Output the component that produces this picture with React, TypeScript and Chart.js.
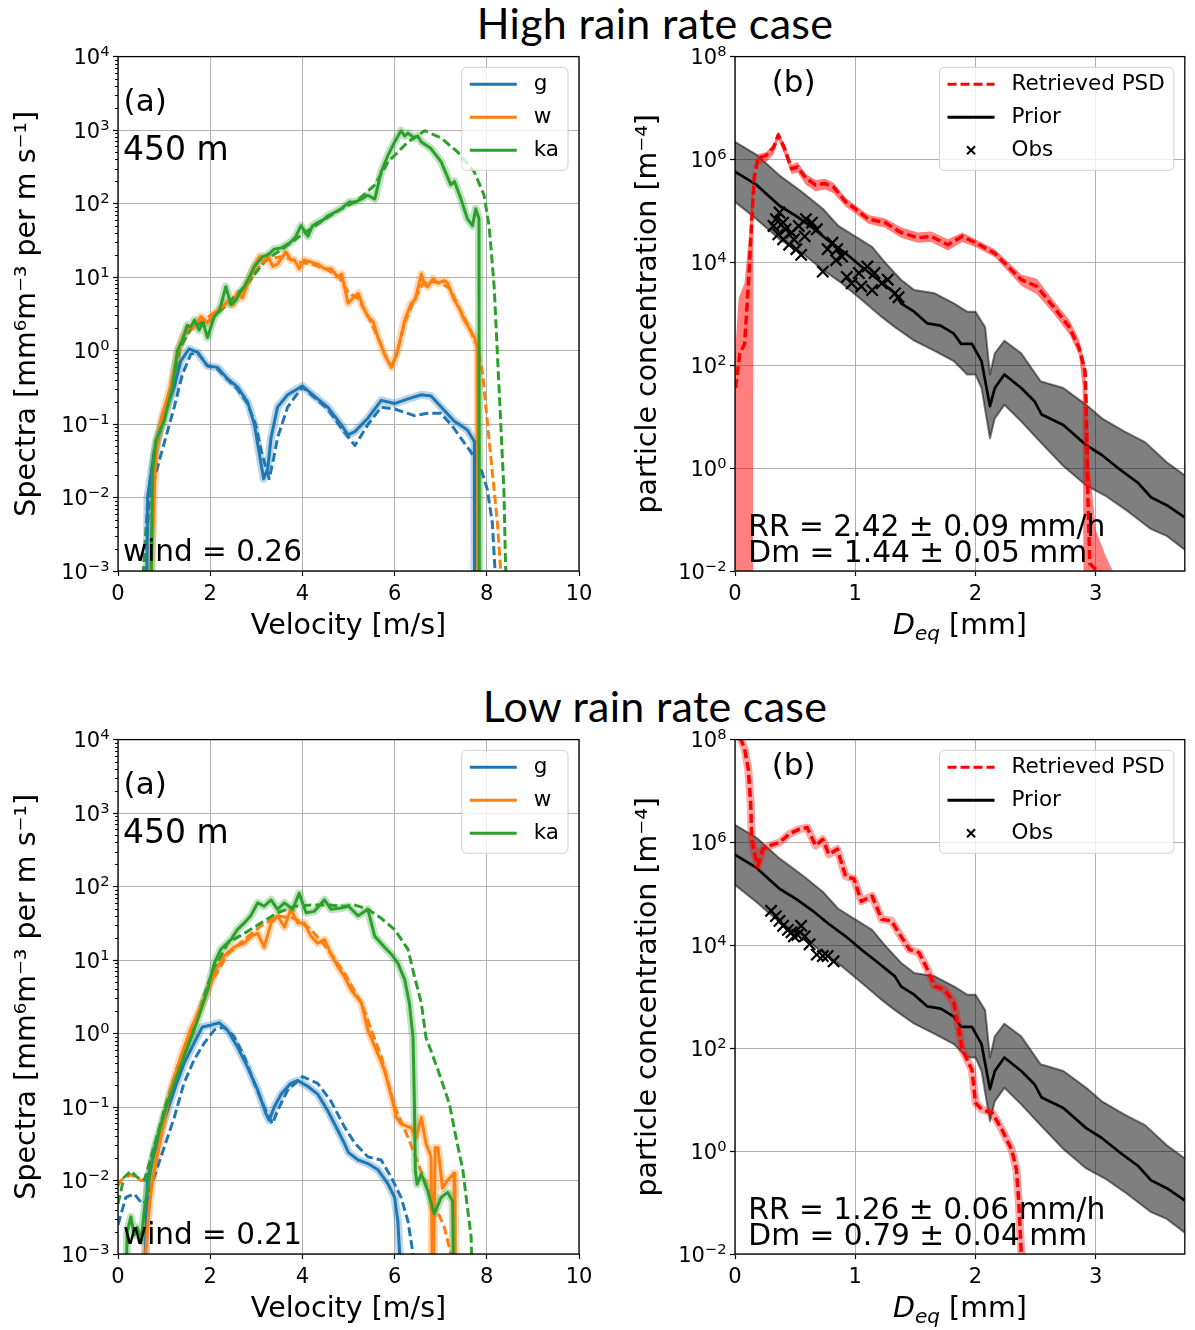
import React, { useEffect, useRef } from 'react';
import { Chart, registerables } from 'chart.js';

Chart.register(...registerables);

type P = [number, number];

// ---------------- axis ticks / labels ----------------
const velocityTicks = [0, 2, 4, 6, 8, 10];
const spectraTicks = [1e-3, 1e-2, 1e-1, 1, 1e1, 1e2, 1e3, 1e4];
const diameterTicks = [0, 1, 2, 3];
const psdTicks = [1e-2, 1, 1e2, 1e4, 1e6, 1e8];
const radarLabels = ['g', 'w', 'ka'];
const psdLabels = ['Retrieved PSD', 'Prior', 'Obs'];

// ---------------- High rain rate: Doppler spectra [velocity m/s, spectra] ----------------
const highG: P[] = [[0.60,1e-5],[0.64,1.0e-2],[0.78,3.8e-2],[1.0,0.135],[1.22,0.32],[1.36,0.72],[1.54,1.05],[1.72,0.95],[1.94,0.62],[2.16,0.59],[2.38,0.41],[2.59,0.32],[2.81,0.20],[2.96,0.098],[3.07,0.038],[3.16,0.018],[3.25,0.025],[3.32,0.065],[3.46,0.17],[3.68,0.25],[4.0,0.33],[4.26,0.24],[4.55,0.17],[4.84,0.098],[4.99,0.071],[5.14,0.079],[5.42,0.12],[5.71,0.21],[6.0,0.19],[6.29,0.22],[6.58,0.25],[6.79,0.24],[7.01,0.17],[7.29,0.11],[7.58,0.083],[7.73,0.058],[7.74,1e-5]];
const highGModel: P[] = [[0.54,1e-5],[0.58,1e-3],[0.68,1e-2],[0.93,0.038],[1.22,0.17],[1.40,0.48],[1.58,0.89],[1.72,0.95],[1.94,0.62],[2.16,0.56],[2.38,0.40],[2.59,0.30],[2.81,0.19],[2.98,0.10],[3.12,0.040],[3.28,0.018],[3.38,0.035],[3.46,0.065],[3.68,0.17],[4.0,0.32],[4.26,0.23],[4.55,0.16],[4.84,0.089],[5.14,0.051],[5.42,0.098],[5.71,0.17],[6.0,0.16],[6.43,0.13],[6.72,0.14],[7.01,0.14],[7.29,0.087],[7.65,0.042],[7.87,0.025],[8.01,0.013],[8.12,0.0045],[8.18,0.001],[8.20,1e-4]];
const highW: P[] = [[0.70,1e-5],[0.72,1e-3],[0.82,0.04],[0.93,0.11],[1.14,0.32],[1.29,0.89],[1.40,1.5],[1.52,2.0],[1.65,2.1],[1.80,2.9],[1.94,2.4],[2.09,3.2],[2.24,3.8],[2.38,4.6],[2.50,4.2],[2.59,6.0],[2.70,5.2],[2.81,8.3],[2.96,14],[3.07,19],[3.16,16],[3.25,19],[3.36,14],[3.46,15],[3.64,22],[3.75,17],[3.83,17],[3.93,13],[4.04,17],[4.19,16],[4.33,15],[4.48,13],[4.62,13],[4.77,10],[4.85,11],[4.99,4.4],[5.06,4.9],[5.21,6.0],[5.31,4.0],[5.42,2.9],[5.53,2.5],[5.64,1.5],[5.78,0.89],[5.93,0.59],[6.04,0.89],[6.12,1.4],[6.22,2.6],[6.36,4.4],[6.45,5.0],[6.58,11],[6.65,7.9],[6.72,7.4],[6.83,9.5],[6.94,8.3],[7.08,8.9],[7.15,8.3],[7.29,4.9],[7.40,3.8],[7.51,2.6],[7.62,2.0],[7.73,1.5],[7.80,1.1],[7.81,1e-5]];
const highWModel: P[] = [[0.68,1e-5],[0.72,1e-3],[0.80,0.03],[0.95,0.12],[1.15,0.33],[1.30,0.9],[1.45,1.6],[1.65,2.1],[1.85,2.6],[2.10,3.3],[2.40,4.6],[2.70,6.5],[2.90,10],[3.10,15],[3.30,18],[3.60,19],[3.90,16],[4.20,15],[4.50,13],[4.80,10],[5.00,6.0],[5.20,5.2],[5.42,3.0],[5.64,1.5],[5.80,0.85],[5.93,0.60],[6.05,0.90],[6.22,2.4],[6.40,4.5],[6.60,8.0],[6.80,8.7],[7.00,8.3],[7.20,7.0],[7.40,3.8],[7.60,2.2],[7.80,1.1],[7.91,0.48],[8.01,0.11],[8.12,0.022],[8.23,0.0046],[8.30,0.001],[8.32,1e-4]];
const highKa: P[] = [[0.70,1e-5],[0.72,1e-3],[0.75,0.022],[0.82,0.058],[0.90,0.079],[1.0,0.11],[1.18,0.32],[1.29,1.0],[1.40,1.4],[1.50,2.2],[1.58,2.1],[1.66,2.6],[1.76,1.9],[1.85,2.4],[1.94,1.5],[2.09,2.9],[2.20,3.5],[2.34,7.4],[2.45,4.2],[2.56,4.9],[2.65,6.3],[2.74,7.4],[2.85,10],[2.96,14],[3.14,19],[3.25,20],[3.39,24],[3.55,25],[3.75,30],[3.85,35],[3.97,50],[4.12,36],[4.22,50],[4.33,55],[4.45,60],[4.55,68],[4.70,76],[4.84,85],[5.02,105],[5.14,105],[5.28,115],[5.42,130],[5.57,115],[5.71,270],[5.86,460],[6.00,690],[6.14,980],[6.22,830],[6.29,910],[6.43,780],[6.50,830],[6.58,690],[6.79,560],[7.01,370],[7.22,180],[7.30,200],[7.44,115],[7.58,62],[7.69,50],[7.76,85],[7.83,62],[7.84,1e-5]];
const highKaModel: P[] = [[0.48,1e-5],[0.55,1e-3],[0.65,0.01],[0.80,0.05],[1.0,0.12],[1.20,0.40],[1.35,1.1],[1.60,2.1],[2.00,2.6],[2.40,4.5],[2.80,8.0],[3.20,17],[3.60,25],[4.00,38],[4.50,62],[4.85,85],[5.20,110],[5.57,180],[5.86,370],[6.29,690],[6.65,980],[7.01,780],[7.37,500],[7.73,270],[7.94,130],[8.05,50],[8.16,7.4],[8.23,0.9],[8.30,0.11],[8.37,0.013],[8.41,0.001],[8.43,1e-4]];

// ---------------- Low rain rate: Doppler spectra ----------------
const lowG: P[] = [[0.55,1e-4],[0.60,1.5e-3],[0.64,0.010],[0.78,0.023],[1.0,0.066],[1.22,0.17],[1.43,0.39],[1.65,0.74],[1.83,1.23],[2.01,1.3],[2.20,1.4],[2.38,1.1],[2.59,0.66],[2.81,0.35],[3.03,0.17],[3.21,0.081],[3.28,0.066],[3.39,0.10],[3.54,0.15],[3.75,0.21],[3.90,0.23],[4.12,0.19],[4.33,0.15],[4.55,0.089],[4.77,0.048],[4.91,0.032],[5.00,0.024],[5.21,0.019],[5.42,0.017],[5.64,0.014],[5.86,0.0089],[6.00,0.0059],[6.07,0.0028],[6.11,0.001],[6.13,1e-4]];
const lowGModel: P[] = [[0.0,0.0025],[0.17,0.0059],[0.35,0.0066],[0.53,0.0048],[0.64,0.0054],[0.78,0.011],[1.0,0.028],[1.22,0.072],[1.43,0.21],[1.65,0.44],[1.87,0.74],[2.09,1.12],[2.30,1.23],[2.52,0.91],[2.74,0.48],[2.96,0.21],[3.17,0.10],[3.35,0.059],[3.46,0.089],[3.68,0.17],[4.0,0.26],[4.33,0.21],[4.62,0.12],[4.91,0.054],[5.14,0.032],[5.42,0.021],[5.71,0.019],[5.93,0.011],[6.14,0.0059],[6.29,0.0028],[6.40,0.001],[6.42,1e-4]];
const lowW: P[] = [[0.58,1e-4],[0.60,0.001],[0.67,0.0039],[0.75,0.010],[0.93,0.039],[1.14,0.17],[1.36,0.48],[1.57,1.12],[1.80,2.3],[2.01,4.8],[2.16,8.1],[2.34,12],[2.52,15],[2.74,17],[2.88,21],[3.03,23],[3.17,15],[3.32,32],[3.46,40],[3.61,28],[3.75,49],[3.90,32],[4.04,32],[4.19,21],[4.33,17],[4.48,19],[4.62,12],[4.77,8.1],[4.91,6.0],[5.06,3.9],[5.28,2.6],[5.42,1.12],[5.57,0.66],[5.78,0.32],[5.93,0.14],[6.04,0.072],[6.14,0.059],[6.36,0.052],[6.47,0.039],[6.58,0.072],[6.68,0.032],[6.79,0.021],[6.83,1e-4],[6.88,0.028],[6.94,0.028],[7.04,0.0079],[7.15,0.010],[7.29,0.0126],[7.31,1e-4]];
const lowWModel: P[] = [[0.0,0.0085],[0.06,0.010],[0.28,0.012],[0.49,0.010],[0.64,0.011],[0.93,0.048],[1.30,0.32],[1.65,1.4],[2.01,4.8],[2.38,12],[2.74,19],[3.10,29],[3.46,40],[3.83,37],[4.19,26],[4.55,14],[4.91,6.6],[5.28,2.6],[5.71,0.48],[6.0,0.10],[6.29,0.039],[6.58,0.013],[6.86,0.0048],[7.08,0.0023],[7.22,0.001],[7.24,1e-4]];
const lowKa: P[] = [[0.15,1e-4],[0.20,0.002],[0.28,0.0032],[0.35,0.0018],[0.42,0.0023],[0.50,0.0015],[0.57,0.0039],[0.67,0.010],[0.78,0.026],[1.0,0.081],[1.22,0.21],[1.43,0.48],[1.65,1.12],[1.80,2.1],[1.94,3.9],[2.09,9.1],[2.23,14],[2.45,19],[2.59,26],[2.74,32],[2.88,40],[3.03,60],[3.17,54],[3.32,66],[3.46,49],[3.61,60],[3.79,49],[3.93,81],[4.08,44],[4.26,46],[4.48,66],[4.62,49],[4.84,51],[5.00,54],[5.21,40],[5.42,49],[5.57,21],[5.78,15],[5.93,12],[6.07,9.1],[6.22,5.4],[6.32,2.6],[6.40,0.89],[6.43,0.11],[6.45,0.0135],[6.49,0.0089],[6.58,0.0123],[6.72,0.0072],[6.86,0.0035],[7.01,0.0059],[7.15,0.0069],[7.26,0.0052],[7.29,1e-4]];
const lowKaModel: P[] = [[0.0,0.0048],[0.13,0.011],[0.28,0.0135],[0.42,0.011],[0.57,0.010],[0.78,0.028],[1.0,0.089],[1.29,0.35],[1.65,1.23],[2.01,6.0],[2.38,17],[2.74,23],[3.10,32],[3.46,44],[3.83,54],[4.19,56],[4.55,56],[4.91,54],[5.14,56],[5.42,49],[5.71,37],[6.0,26],[6.29,14],[6.43,6.0],[6.58,2.6],[6.68,0.89],[6.94,0.32],[7.19,0.11],[7.33,0.039],[7.48,0.014],[7.57,0.0048],[7.66,0.0017],[7.70,1e-4]];

// ---------------- PSD [Deq mm, concentration m^-4] ----------------
const priorPSD: P[] = [[0,5.8e5],[0.18,3.2e5],[0.37,1.26e5],[0.51,7.9e4],[0.64,4.8e4],[0.78,2.6e4],[0.92,1.5e4],[1.05,8.3e3],[1.19,4.6e3],[1.33,2.5e3],[1.38,1.6e3],[1.49,1.1e3],[1.60,650],[1.71,590],[1.82,410],[1.88,260],[1.97,260],[2.05,120],[2.12,16],[2.16,36],[2.24,66],[2.38,36],[2.49,20],[2.55,11],[2.73,6.9],[2.92,2.8],[3.05,1.8],[3.19,0.98],[3.35,0.52],[3.46,0.27],[3.59,0.19],[3.74,0.11]];
const priorUpper: P[] = [[0,2.2e6],[0.18,1.23e6],[0.37,4.9e5],[0.56,2.3e5],[0.73,1.1e5],[0.86,5.1e4],[1.0,3.2e4],[1.14,2.0e4],[1.25,9.8e3],[1.38,4.6e3],[1.49,2.9e3],[1.66,2.5e3],[1.82,1.6e3],[1.93,1.1e3],[2.0,1.1e3],[2.08,550],[2.12,66],[2.16,170],[2.24,300],[2.38,170],[2.54,49],[2.73,36],[2.92,17],[3.05,9.3],[3.24,5.1],[3.41,3.2],[3.59,1.3],[3.74,0.72]];
const priorLower: P[] = [[0,1.5e5],[0.18,6.9e4],[0.37,2.8e4],[0.56,1.5e4],[0.73,7.2e3],[0.89,3.9e3],[1.05,1.9e3],[1.22,870],[1.33,550],[1.49,300],[1.66,190],[1.82,120],[1.93,66],[2.0,66],[2.05,36],[2.12,3.8],[2.16,9.3],[2.24,17],[2.38,8.1],[2.54,3.2],[2.73,1.1],[2.92,0.46],[3.08,0.29],[3.24,0.16],[3.46,0.065],[3.59,0.048],[3.74,0.026]];

const highRetrieved: P[] = [[0.005,36],[0.04,170],[0.08,260],[0.11,3.4e3],[0.14,6.9e4],[0.16,4.3e5],[0.19,1.05e6],[0.26,1.2e6],[0.32,1.7e6],[0.36,3.0e6],[0.41,1.7e6],[0.47,6.6e5],[0.52,7.2e5],[0.59,4.3e5],[0.67,3.2e5],[0.75,3.4e5],[0.82,2.9e5],[0.92,1.5e5],[1.0,1.1e5],[1.11,6.9e4],[1.25,5.9e4],[1.38,3.8e4],[1.52,3.0e4],[1.63,3.2e4],[1.77,2.2e4],[1.89,3.2e4],[2.0,2.4e4],[2.16,1.5e4],[2.38,4.6e3],[2.51,3.4e3],[2.65,1.35e3],[2.78,550],[2.86,220],[2.91,78],[2.92,17],[2.93,0.83],[2.94,0.087],[2.95,0.014],[3.02,0.0095]];
const highRetrievedUpper: P[] = [[0.0,160],[0.03,2000],[0.08,4000],[0.12,4e4],[0.15,6.3e5],[0.19,1.26e6],[0.26,1.4e6],[0.32,2.0e6],[0.36,3.5e6],[0.41,2.0e6],[0.47,7.9e5],[0.52,8.9e5],[0.59,5.2e5],[0.67,4.0e5],[0.75,4.2e5],[0.82,3.5e5],[0.92,1.8e5],[1.0,1.3e5],[1.11,8.3e4],[1.25,7.1e4],[1.38,4.8e4],[1.52,3.8e4],[1.63,4.0e4],[1.77,2.8e4],[1.89,3.8e4],[2.0,2.8e4],[2.16,1.8e4],[2.38,5.8e3],[2.51,4.8e3],[2.65,1.8e3],[2.78,760],[2.86,320],[2.91,110],[2.93,16],[2.95,1.0],[3.0,0.063],[3.08,0.02],[3.16,0.008]];
const highRetrievedLower: P[] = [[0.0,1e-3],[0.15,1e-3],[0.152,8e5],[0.19,8e5],[0.26,8.9e5],[0.32,1.26e6],[0.36,2.4e6],[0.41,1.26e6],[0.47,5.2e5],[0.52,5.6e5],[0.59,3.2e5],[0.67,2.4e5],[0.75,2.6e5],[0.82,2.2e5],[0.92,1.2e5],[1.0,8.9e4],[1.11,5.6e4],[1.25,4.7e4],[1.38,3.0e4],[1.52,2.4e4],[1.63,2.5e4],[1.77,1.7e4],[1.89,2.5e4],[2.0,2.0e4],[2.16,1.26e4],[2.38,3.5e3],[2.51,2.4e3],[2.65,1.0e3],[2.78,400],[2.86,160],[2.89,40],[2.90,1e-3],[3.16,1e-3]];
const highObs: P[] = [[0.37,9.3e4],[0.34,6.9e4],[0.32,5.1e4],[0.40,5.9e4],[0.42,4.4e4],[0.36,3.5e4],[0.40,2.8e4],[0.45,2.2e4],[0.49,2.8e4],[0.51,1.8e4],[0.55,1.4e4],[0.47,3.8e4],[0.53,5.1e4],[0.59,6.9e4],[0.64,5.9e4],[0.68,4.4e4],[0.58,3.2e4],[0.73,6.6e3],[0.77,1.8e4],[0.81,2.4e4],[0.85,1.8e4],[0.89,1.3e4],[0.84,1.1e4],[0.93,5.2e3],[0.97,3.9e3],[1.03,6.2e3],[1.05,3.4e3],[1.10,8.3e3],[1.14,2.9e3],[1.16,6.2e3],[1.22,3.9e3],[1.27,4.6e3],[1.33,2.5e3],[1.36,2.1e3]];

const lowRetrieved: P[] = [[0.03,2e8],[0.05,1.0e8],[0.08,6.6e7],[0.11,2.7e7],[0.13,6.0e6],[0.14,1.15e6],[0.16,6.5e5],[0.19,3.5e5],[0.23,7.4e5],[0.29,8.7e5],[0.37,1.0e6],[0.45,1.45e6],[0.53,1.8e6],[0.60,1.95e6],[0.67,8.7e5],[0.73,1.15e6],[0.78,5.9e5],[0.85,7.4e5],[0.92,2.2e5],[0.99,1.95e5],[1.05,7.2e4],[1.14,9.1e4],[1.22,3.2e4],[1.30,3.0e4],[1.38,1.5e4],[1.45,8.3e3],[1.53,7.2e3],[1.60,3.4e3],[1.66,1.6e3],[1.74,1.4e3],[1.82,760],[1.86,230],[1.89,93],[1.97,38],[2.0,8.7],[2.05,6.5],[2.14,5.5],[2.22,2.6],[2.30,1.07],[2.34,0.44],[2.36,0.1],[2.38,0.0102],[2.385,0.003]];
const lowObs: P[] = [[0.30,4.7e4],[0.34,3.7e4],[0.37,3.0e4],[0.40,2.4e4],[0.44,2.0e4],[0.47,1.8e4],[0.49,1.5e4],[0.52,1.6e4],[0.55,2.4e4],[0.58,1.5e4],[0.62,1.05e4],[0.68,6.6e3],[0.73,6.2e3],[0.77,6.2e3],[0.82,4.9e3]];

// ---------------- styling ----------------
const FONT = '"DejaVu Sans", sans-serif';
const BLUE = '#1f77b4';
const ORANGE = '#ff7f0e';
const GREEN = '#2ca02c';
const RED = '#ff0000';
const DASH = [9, 4];
const TICK_SIZE = 21;

const pts = (a: P[]) => a.map(([x, y]) => ({ x, y }));
const expText = (v: number) => {
  const e = Math.round(Math.log10(v));
  return e < 0 ? '\u2212' + String(-e) : String(e);
};

const line = (data: P[], color: string, width: number, dash: number[] = []) => ({
  data: pts(data),
  borderColor: color,
  backgroundColor: color,
  borderWidth: width,
  borderDash: dash,
  borderJoinStyle: 'round',
  pointRadius: 0,
  fill: false,
  tension: 0,
  clip: 0,
  showLine: true,
});

type TextItem = { text: string; dx: number; dy: number; size: number };
type Part = { text: string; size: number; italic?: boolean; dy?: number };
type LegendItem = { label: string; color?: string; dash?: number[]; marker?: boolean };

function makeDecor(cfg: { texts: TextItem[]; xTitle: Part[]; legend: LegendItem[]; minor: boolean; yTicks: number[] }) {
  return {
    id: 'decor',
    afterDatasetsDraw(chart: any) {
      const { ctx, chartArea: ca } = chart;
      const ys = chart.scales.y;
      ctx.save();
      // frame (all four spines)
      ctx.setLineDash([]);
      ctx.strokeStyle = '#000';
      ctx.lineWidth = 1.3;
      ctx.strokeRect(ca.left, ca.top, ca.right - ca.left, ca.bottom - ca.top);
      // minor ticks on log axis
      if (cfg.minor) {
        ctx.lineWidth = 1;
        ctx.beginPath();
        const e0 = Math.floor(Math.log10(ys.min));
        const e1 = Math.ceil(Math.log10(ys.max));
        for (let e = e0; e < e1; e++) {
          for (let m = 2; m < 10; m++) {
            const v = m * Math.pow(10, e);
            if (v <= ys.min || v >= ys.max) continue;
            const py = Math.round(ys.getPixelForValue(v)) + 0.5;
            ctx.moveTo(ca.left - 3, py);
            ctx.lineTo(ca.left, py);
          }
        }
        ctx.stroke();
      }
      // y tick labels as 10 with raised exponent
      ctx.fillStyle = '#000';
      ctx.textAlign = 'left';
      ctx.textBaseline = 'alphabetic';
      const right = ca.left - 8.5;
      const supSize = TICK_SIZE * 0.7;
      for (const v of cfg.yTicks) {
        const py = ys.getPixelForValue(v);
        const ex = expText(v);
        ctx.font = `${supSize}px ${FONT}`;
        const wSup = ctx.measureText(ex).width;
        ctx.font = `${TICK_SIZE}px ${FONT}`;
        const wMain = ctx.measureText('10').width;
        const base = py + 7.8;
        ctx.fillText('10', right - wSup - wMain, base);
        ctx.font = `${supSize}px ${FONT}`;
        ctx.fillText(ex, right - wSup, base - 8);
      }
      // annotations
      for (const t of cfg.texts) {
        ctx.font = `${t.size}px ${FONT}`;
        ctx.fillText(t.text, ca.left + t.dx, ca.top + t.dy);
      }
      // x axis title
      const fontOf = (p: Part) => `${p.italic ? 'italic ' : ''}${p.size}px ${FONT}`;
      let total = 0;
      const ws = cfg.xTitle.map((p) => {
        ctx.font = fontOf(p);
        const w = ctx.measureText(p.text).width;
        total += w;
        return w;
      });
      let x = (ca.left + ca.right) / 2 - total / 2;
      const base = ca.bottom + 63;
      cfg.xTitle.forEach((p, i) => {
        ctx.font = fontOf(p);
        ctx.fillText(p.text, x, base + (p.dy || 0));
        x += ws[i];
      });
      // legend
      const size = 21.5;
      ctx.font = `${size}px ${FONT}`;
      const textW = Math.max(...cfg.legend.map((it) => ctx.measureText(it.label).width));
      const padL = 8, handle = 47, gap = 17, padR = 9;
      const boxW = padL + handle + gap + textW + padR;
      const boxH = 103;
      const bx = ca.right - 11 - boxW;
      const by = ca.top + 10.7;
      ctx.beginPath();
      ctx.roundRect(bx, by, boxW, boxH, 5);
      ctx.fillStyle = 'rgba(255,255,255,0.8)';
      ctx.fill();
      ctx.strokeStyle = '#d0d0d0';
      ctx.lineWidth = 1;
      ctx.stroke();
      cfg.legend.forEach((it, i) => {
        const cy = by + 17 + i * 33;
        if (it.marker) {
          const mx = bx + padL + handle / 2;
          ctx.setLineDash([]);
          ctx.strokeStyle = '#000';
          ctx.lineWidth = 2;
          ctx.beginPath();
          ctx.moveTo(mx - 4, cy - 4); ctx.lineTo(mx + 4, cy + 4);
          ctx.moveTo(mx - 4, cy + 4); ctx.lineTo(mx + 4, cy - 4);
          ctx.stroke();
        } else {
          ctx.setLineDash(it.dash || []);
          ctx.strokeStyle = it.color || '#000';
          ctx.lineWidth = 3;
          ctx.beginPath();
          ctx.moveTo(bx + padL, cy);
          ctx.lineTo(bx + padL + handle, cy);
          ctx.stroke();
          ctx.setLineDash([]);
        }
        ctx.fillStyle = '#000';
        ctx.font = `${size}px ${FONT}`;
        ctx.textBaseline = 'middle';
        ctx.fillText(it.label, bx + padL + handle + gap, cy);
      });
      ctx.restore();
    },
  };
}

const tickFont = { family: FONT, size: TICK_SIZE };
const gridStyle = { color: '#b0b0b0', lineWidth: 1, tickLength: 5, tickColor: '#000', tickWidth: 1.2, drawTicks: true };

function makeOptions(o: {
  xTicks: number[]; xMax: number; yTicks: number[]; yTitle: string; yTitlePad: number;
  yAxisW: number; xAxisH: number; padRight: number;
}) {
  return {
    responsive: false,
    animation: false,
    devicePixelRatio: 1,
    events: [],
    layout: { padding: { top: 16, right: o.padRight, bottom: 0, left: 0 } },
    plugins: { legend: { display: false }, tooltip: { enabled: false } },
    scales: {
      x: {
        type: 'linear',
        min: 0,
        max: o.xMax,
        bounds: 'data',
        afterBuildTicks: (s: any) => { s.ticks = o.xTicks.map((v) => ({ value: v })); },
        afterFit: (s: any) => { s.height = o.xAxisH; },
        ticks: { font: tickFont, color: '#000', padding: 6, autoSkip: false, maxRotation: 0, callback: (v: any) => String(v) },
        grid: gridStyle,
        border: { display: false },
      },
      y: {
        type: 'logarithmic',
        min: o.yTicks[0],
        max: o.yTicks[o.yTicks.length - 1],
        afterBuildTicks: (s: any) => { s.ticks = o.yTicks.map((v) => ({ value: v })); },
        afterFit: (s: any) => { s.width = o.yAxisW; },
        ticks: { font: tickFont, color: '#000', padding: 4, autoSkip: false, callback: () => '' },
        grid: gridStyle,
        border: { display: false },
        title: { display: true, text: o.yTitle, color: '#000', font: { family: FONT, size: 28.5 }, padding: { top: o.yTitlePad, bottom: 0 } },
      },
    },
  };
}

function spectraConfig(s: { g: P[]; gm: P[]; w: P[]; wm: P[]; ka: P[]; kam: P[] }, wind: string, xAxisH: number) {
  return {
    type: 'line',
    data: {
      datasets: [
        line(s.ka, GREEN, 3), line(s.w, ORANGE, 3), line(s.g, BLUE, 3),
        line(s.kam, GREEN, 3, DASH), line(s.wm, ORANGE, 3, DASH), line(s.gm, BLUE, 3, DASH),
        line(s.ka, 'rgba(44,160,44,0.3)', 8), line(s.w, 'rgba(255,127,14,0.3)', 8), line(s.g, 'rgba(31,119,180,0.3)', 8),
      ],
    },
    options: makeOptions({
      xTicks: velocityTicks, xMax: 10, yTicks: spectraTicks,
      yTitle: 'Spectra [mm⁶m⁻³ per m s⁻¹]', yTitlePad: 10, yAxisW: 118, xAxisH, padRight: 21,
    }),
    plugins: [makeDecor({
      texts: [
        { text: '(a)', dx: 5.6, dy: 54.6, size: 31 },
        { text: '450 m', dx: 5, dy: 103.4, size: 33 },
        { text: wind, dx: 5, dy: 504, size: 29.5 },
      ],
      xTitle: [{ text: 'Velocity [m/s]', size: 28.5 }],
      legend: [
        { label: radarLabels[0], color: BLUE },
        { label: radarLabels[1], color: ORANGE },
        { label: radarLabels[2], color: GREEN },
      ],
      minor: true,
      yTicks: spectraTicks,
    })],
  };
}

const obsSet = (data: P[]) => ({
  data: pts(data), showLine: false, pointStyle: 'crossRot', pointRadius: 8, pointBorderWidth: 2.2,
  pointBorderColor: '#000', pointBackgroundColor: '#000', borderColor: '#000', clip: 0,
});

function psdConfig(retrieved: P[], band: any[], obs: P[], rr: string, dm: string, xAxisH: number) {
  return {
    type: 'line',
    data: {
      datasets: [
        line(retrieved, RED, 3.5, DASH),
        ...band,
        obsSet(obs),
        line(priorPSD, '#000', 2.7),
        { ...line(priorUpper, 'rgba(0,0,0,0.5)', 2), fill: '+1', backgroundColor: 'rgba(0,0,0,0.5)' },
        line(priorLower, 'rgba(0,0,0,0.5)', 2),
      ],
    },
    options: makeOptions({
      xTicks: diameterTicks, xMax: 3.74, yTicks: psdTicks,
      yTitle: 'particle concentration [m⁻⁴]', yTitlePad: 31, yAxisW: 135, xAxisH, padRight: 2,
    }),
    plugins: [makeDecor({
      texts: [
        { text: '(b)', dx: 36.7, dy: 35.2, size: 31 },
        { text: rr, dx: 13.3, dy: 479, size: 29.7 },
        { text: dm, dx: 13.3, dy: 505, size: 29.7 },
      ],
      xTitle: [
        { text: 'D', size: 28.5, italic: true },
        { text: 'eq', size: 20, italic: true, dy: 6 },
        { text: ' [mm]', size: 28.5 },
      ],
      legend: [
        { label: psdLabels[0], color: RED, dash: DASH },
        { label: psdLabels[1], color: '#000' },
        { label: psdLabels[2], marker: true },
      ],
      minor: false,
      yTicks: psdTicks,
    })],
  };
}

function Panel({ left, top, width, height, make }: { left: number; top: number; width: number; height: number; make: () => any }) {
  const ref = useRef<HTMLCanvasElement>(null);
  useEffect(() => {
    const chart = new Chart(ref.current as HTMLCanvasElement, make());
    return () => chart.destroy();
  }, []);
  return (
    <canvas
      ref={ref}
      width={width}
      height={height}
      style={{ position: 'absolute', left, top, width, height, display: 'block' }}
    />
  );
}

const titleStyle: React.CSSProperties = {
  position: 'absolute',
  left: 305,
  width: 700,
  textAlign: 'center',
  fontFamily: 'Lato, "Open Sans", sans-serif',
  fontSize: 43,
  lineHeight: '43px',
  letterSpacing: '0.3px',
  color: '#000',
  whiteSpace: 'nowrap',
};

export default function App() {
  return (
    <div style={{ position: 'absolute', left: 0, top: 0, width: 1195, height: 1330, overflow: 'hidden', background: '#fff' }}>
      <div style={{ ...titleStyle, top: 1 }}>High rain rate case</div>
      <div style={{ ...titleStyle, top: 684 }}>Low rain rate case</div>
      <Panel left={0} top={40} width={600} height={620}
        make={() => spectraConfig({ g: highG, gm: highGModel, w: highW, wm: highWModel, ka: highKa, kam: highKaModel }, 'wind = 0.26', 89)} />
      <Panel left={600} top={40} width={595} height={620}
        make={() => psdConfig(highRetrieved, [
          { ...line(highRetrievedUpper, 'rgba(0,0,0,0)', 0.1), fill: '+1', backgroundColor: 'rgba(255,0,0,0.5)' },
          line(highRetrievedLower, 'rgba(0,0,0,0)', 0.1),
        ], highObs, 'RR = 2.42 ± 0.09 mm/h', 'Dm = 1.44 ± 0.05 mm', 89)} />
      <Panel left={0} top={723} width={600} height={607}
        make={() => spectraConfig({ g: lowG, gm: lowGModel, w: lowW, wm: lowWModel, ka: lowKa, kam: lowKaModel }, 'wind = 0.21', 76)} />
      <Panel left={600} top={723} width={595} height={607}
        make={() => psdConfig(lowRetrieved, [
          line(lowRetrieved, 'rgba(255,0,0,0.35)', 8),
        ], lowObs, 'RR = 1.26 ± 0.06 mm/h', 'Dm = 0.79 ± 0.04 mm', 76)} />
    </div>
  );
}
